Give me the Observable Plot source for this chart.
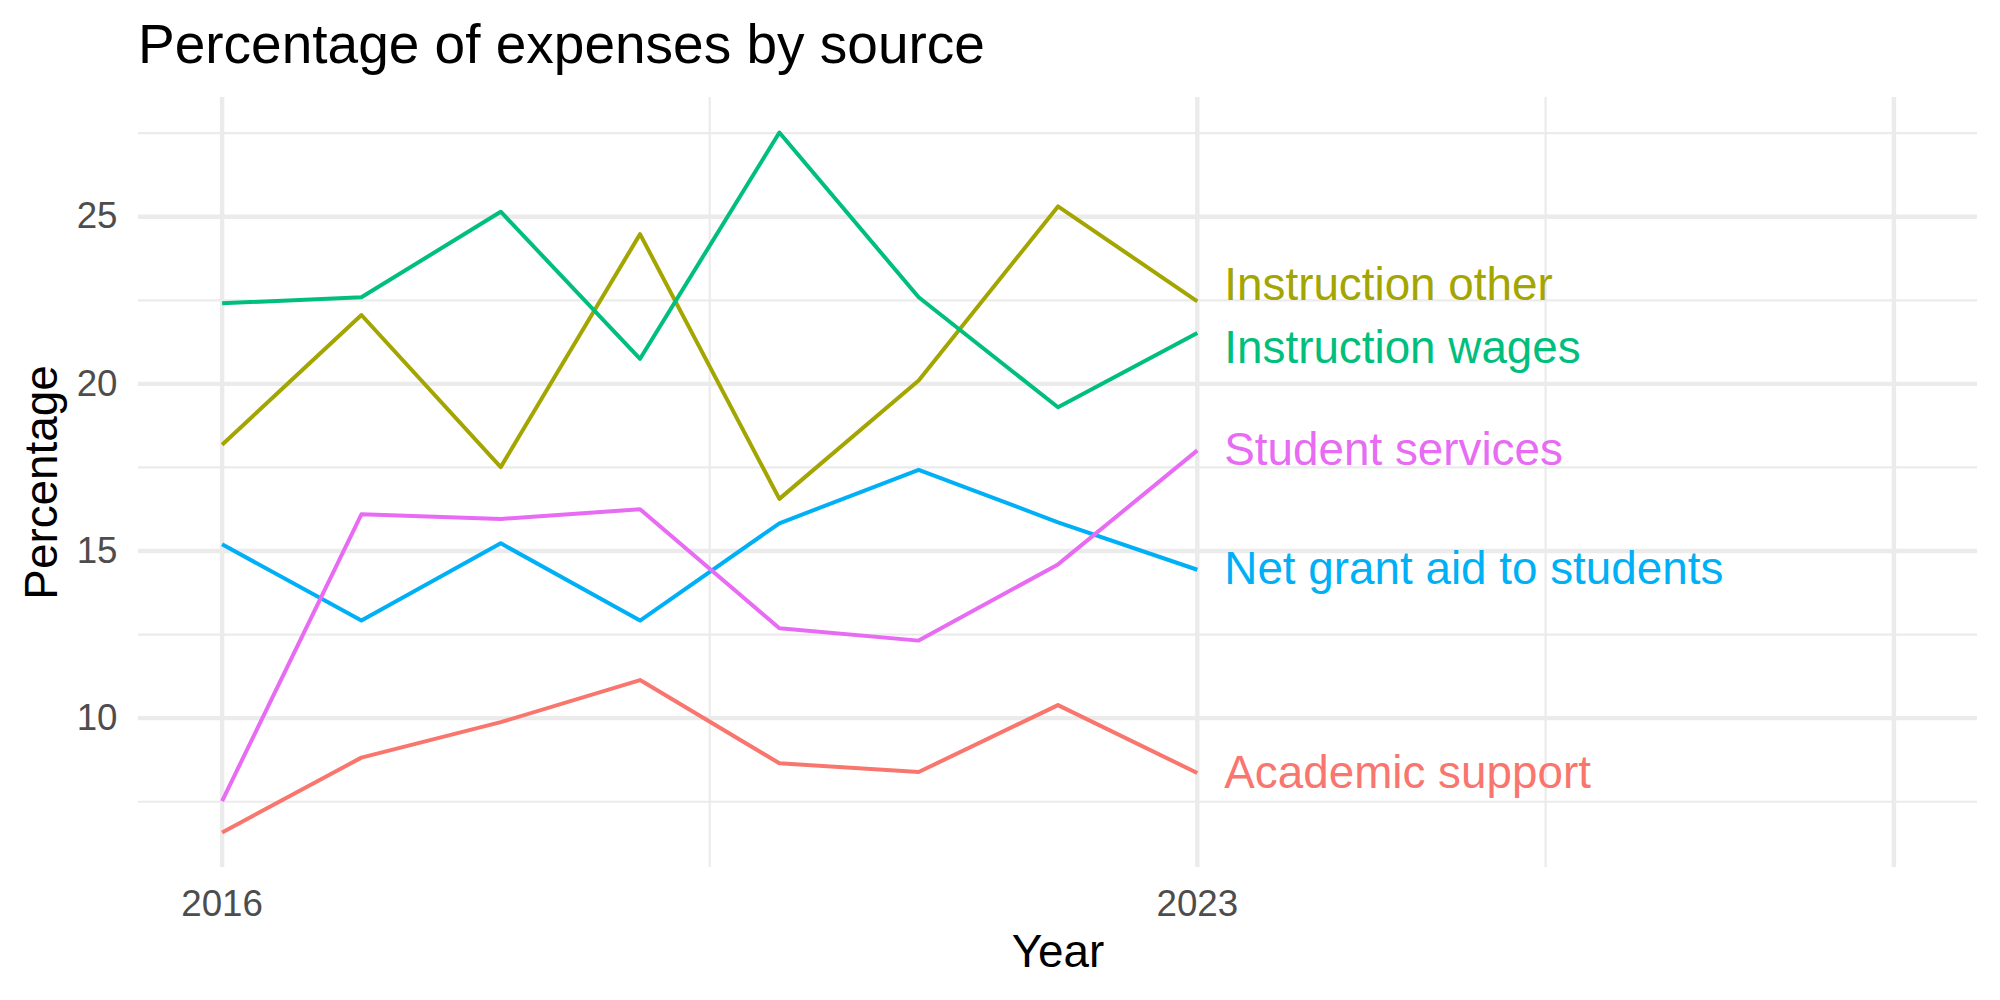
<!DOCTYPE html>
<html>
<head>
<meta charset="utf-8">
<script src="https://cdn.jsdelivr.net/npm/d3@7"></script>
<script src="https://cdn.jsdelivr.net/npm/@observablehq/plot@0.6"></script>
<style>
html, body { margin: 0; padding: 0; background: #fff; }
#chart { width: 2000px; height: 1000px; font-family: "Liberation Sans", Arial, Helvetica, sans-serif; }
#title { margin: 0; padding: 4px 0 0 138px; height: 80px; line-height: 80px; font-size: 55px; font-weight: normal; color: #000; white-space: nowrap; }
svg { display: block; }
</style>
</head>
<body>
<div id="chart"><h2 id="title">Percentage of expenses by source</h2></div>
<script>
// ---- data ----
const years = [2016, 2017, 2018, 2019, 2020, 2021, 2022, 2023];
const seriesNames = ["Academic support", "Instruction other", "Instruction wages", "Net grant aid to students", "Student services"];
const academicSupport   = [6.58, 8.82, 9.88, 11.14, 8.65, 8.39, 10.39, 8.36];
const instructionOther  = [18.18, 22.06, 17.51, 24.48, 16.56, 20.10, 25.31, 22.47];
const instructionWages  = [22.41, 22.59, 25.15, 20.75, 27.52, 22.59, 19.30, 21.52];
const netGrantAid       = [15.20, 12.92, 15.23, 12.92, 15.83, 17.43, 15.86, 14.44];
const studentServices   = [7.52, 16.10, 15.96, 16.25, 12.69, 12.32, 14.60, 18.01];
const seriesColors = ["#F8766D", "#A3A500", "#00BF7D", "#00B0F6", "#E76BF3"];
const xBreaks = [2016, 2023, 2028];
const xBreakLabels = ["2016", "2023", ""];
const yBreaks = [10, 15, 20, 25];
const yBreakLabels = ["10", "15", "20", "25"];

// ---- build ----
const seriesValues = [academicSupport, instructionOther, instructionWages, netGrantAid, studentServices];
const rows = [];
seriesNames.forEach((name, s) => years.forEach((yr, i) => rows.push({series: name, year: yr, value: seriesValues[s][i]})));

const xLo = xBreaks[0], xHi = xBreaks[xBreaks.length - 1];
const xPad = 0.05 * (xHi - xLo);
const allVals = seriesValues.flat();
const yLo = d3.min(allVals), yHi = d3.max(allVals), yPad = 0.05 * (yHi - yLo);
const yDomain = [yLo - yPad, yHi + yPad];
const minorX = d3.pairs(xBreaks).map(([a, b]) => (a + b) / 2);
const yStep = yBreaks[1] - yBreaks[0];
const yExt = [yBreaks[0] - yStep, ...yBreaks, yBreaks[yBreaks.length - 1] + yStep];
const minorY = d3.pairs(yExt).map(([a, b]) => (a + b) / 2).filter(v => v >= yDomain[0] && v <= yDomain[1]);
const xLabelMap = new Map(xBreaks.map((b, i) => [b, xBreakLabels[i]]));
const yTicks = yBreaks.map((b, i) => ({value: b, label: yBreakLabels[i]}));

const W = 2000, H = 916, mT = 13, mR = 23, mB = 133, mL = 138;
const pxPerUnit = (H - mT - mB) / (yDomain[1] - yDomain[0]);
const minGap = 63 / pxPerUnit;
const last = years.length - 1;
const labels = seriesNames.map((name, s) => ({series: name, year: years[last], value: seriesValues[s][last], labelY: seriesValues[s][last]}));
const sorted = labels.slice().sort((a, b) => b.labelY - a.labelY);
for (let it = 0; it < 50; it++) {
  for (let i = 0; i < sorted.length - 1; i++) {
    const a = sorted[i], b = sorted[i + 1];
    const gap = a.labelY - b.labelY;
    if (gap < minGap) { const p = (minGap - gap) / 2; a.labelY += p; b.labelY -= p; }
  }
}

const grid = "#EBEBEB";
const chart = Plot.plot({
  width: W, height: H, marginTop: mT, marginRight: mR, marginBottom: mB, marginLeft: mL,
  style: {fontFamily: '"Liberation Sans", Arial, Helvetica, sans-serif', background: "white", overflow: "visible"},
  x: {domain: [xLo - xPad, xHi + xPad]},
  y: {domain: yDomain, axis: null},
  color: {domain: seriesNames, range: seriesColors},
  marks: [
    Plot.ruleY(minorY, {stroke: grid, strokeWidth: 2.2}),
    Plot.ruleX(minorX, {stroke: grid, strokeWidth: 2.2}),
    Plot.ruleY(yBreaks, {stroke: grid, strokeWidth: 4.4}),
    Plot.ruleX(xBreaks, {stroke: grid, strokeWidth: 4.4}),
    Plot.line(rows, {x: "year", y: "value", z: "series", stroke: "series", strokeWidth: 4, strokeLinejoin: "round", strokeLinecap: "butt"}),
    Plot.text(labels, {x: "year", y: "labelY", text: "series", fill: "series", textAnchor: "start", dx: 27, fontSize: 45.8, lineAnchor: "middle"}),
    Plot.axisX(xBreaks, {tickSize: 0, tickPadding: 22, fontSize: 36.7, color: "#4D4D4D", tickFormat: d => xLabelMap.get(d), label: null}),
    Plot.text(yTicks, {y: "value", text: "label", frameAnchor: "left", textAnchor: "end", dx: -21, fontSize: 36.7, fill: "#4D4D4D", lineAnchor: "middle"}),
    Plot.text(["Year"], {text: d => d, frameAnchor: "bottom", dy: 99, fontSize: 45.8, lineAnchor: "bottom", textAnchor: "middle", fill: "black"}),
    Plot.text(["Percentage"], {text: d => d, frameAnchor: "left", dx: -82, rotate: -90, fontSize: 45.8, lineAnchor: "bottom", textAnchor: "middle", fill: "black"})
  ]
});
document.getElementById("chart").appendChild(chart);
</script>
</body>
</html>
